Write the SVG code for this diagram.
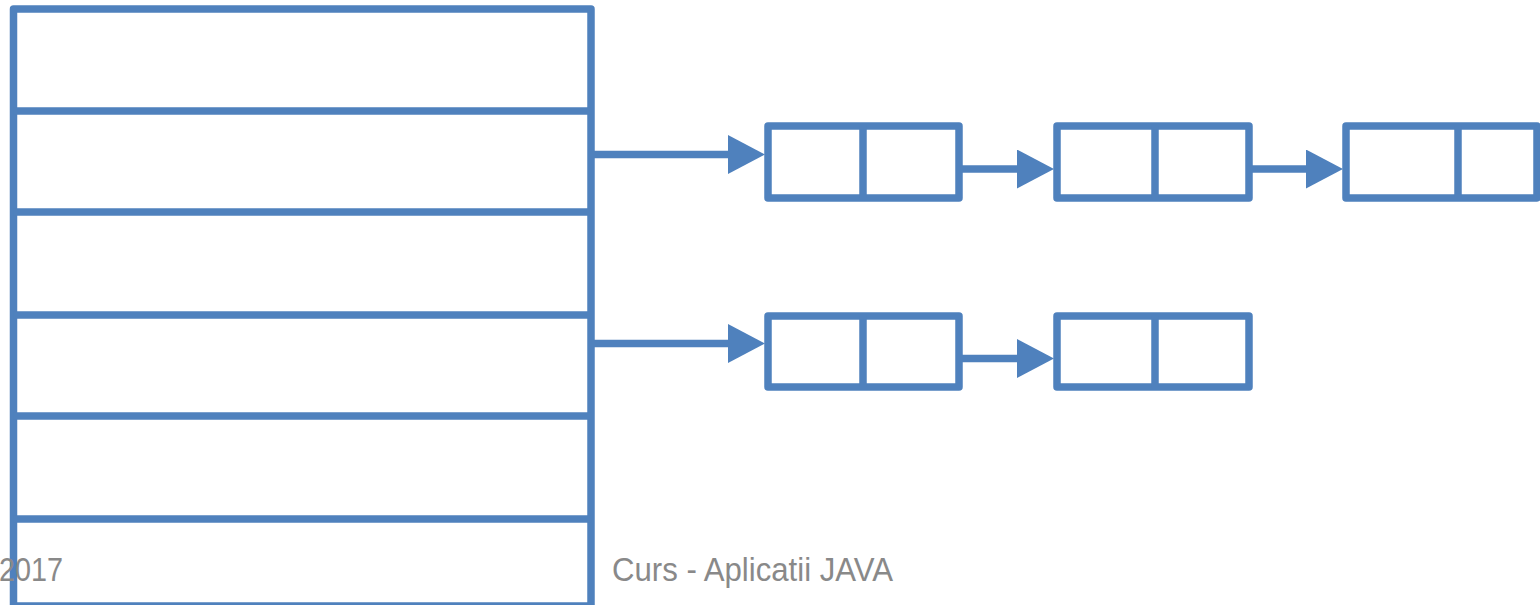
<svg xmlns="http://www.w3.org/2000/svg" width="1540" height="605" viewBox="0 0 1540 605">
<style>
.b{fill:none;stroke:#4F81BD;stroke-width:7.5;stroke-linejoin:round}
.c{fill:none;stroke:#4F81BD;stroke-width:7.5}
.t{font-family:"Liberation Sans","DejaVu Sans",sans-serif;font-size:33px;fill:#898989}
</style>
<defs>
<marker id="ah" markerUnits="userSpaceOnUse" markerWidth="38" markerHeight="40" refX="12" refY="19.5" orient="auto">
<path d="M0,0 L37,19.5 L0,39 Z" fill="#4F81BD"/>
</marker>
</defs>
<g id="table">
<rect class="b" x="13.5" y="9" width="577.5" height="597"/>
<line class="c" x1="13.5" y1="111" x2="591" y2="111"/>
<line class="c" x1="13.5" y1="212" x2="591" y2="212"/>
<line class="c" x1="13.5" y1="315" x2="591" y2="315"/>
<line class="c" x1="13.5" y1="416" x2="591" y2="416"/>
<line class="c" x1="13.5" y1="519" x2="591" y2="519"/>
</g>
<g id="n1">
<rect class="b" x="768" y="126" width="191" height="72"/>
<line class="c" x1="863" y1="126" x2="863" y2="198"/>
</g>
<g id="n2">
<rect class="b" x="1057" y="126" width="192" height="72"/>
<line class="c" x1="1155" y1="126" x2="1155" y2="198"/>
</g>
<g id="n3">
<rect class="b" x="1346" y="126" width="191" height="72"/>
<line class="c" x1="1458" y1="126" x2="1458" y2="198"/>
</g>
<g id="n4">
<rect class="b" x="768" y="316" width="191" height="71"/>
<line class="c" x1="863" y1="316" x2="863" y2="387"/>
</g>
<g id="n5">
<rect class="b" x="1057" y="316" width="192" height="71"/>
<line class="c" x1="1155" y1="316" x2="1155" y2="387"/>
</g>
<g id="connectors">
<line class="c" x1="594" y1="154.5" x2="740" y2="154.5" marker-end="url(#ah)"/>
<line class="c" x1="962" y1="169" x2="1029" y2="169" marker-end="url(#ah)"/>
<line class="c" x1="1252" y1="169" x2="1318" y2="169" marker-end="url(#ah)"/>
<line class="c" x1="594" y1="343.5" x2="740" y2="343.5" marker-end="url(#ah)"/>
<line class="c" x1="962" y1="358.5" x2="1029" y2="358.5" marker-end="url(#ah)"/>
</g>
<text class="t" x="-1" y="581" textLength="64" lengthAdjust="spacingAndGlyphs">2017</text>
<text class="t" x="612" y="581" textLength="281" lengthAdjust="spacingAndGlyphs">Curs - Aplicatii JAVA</text>
</svg>
